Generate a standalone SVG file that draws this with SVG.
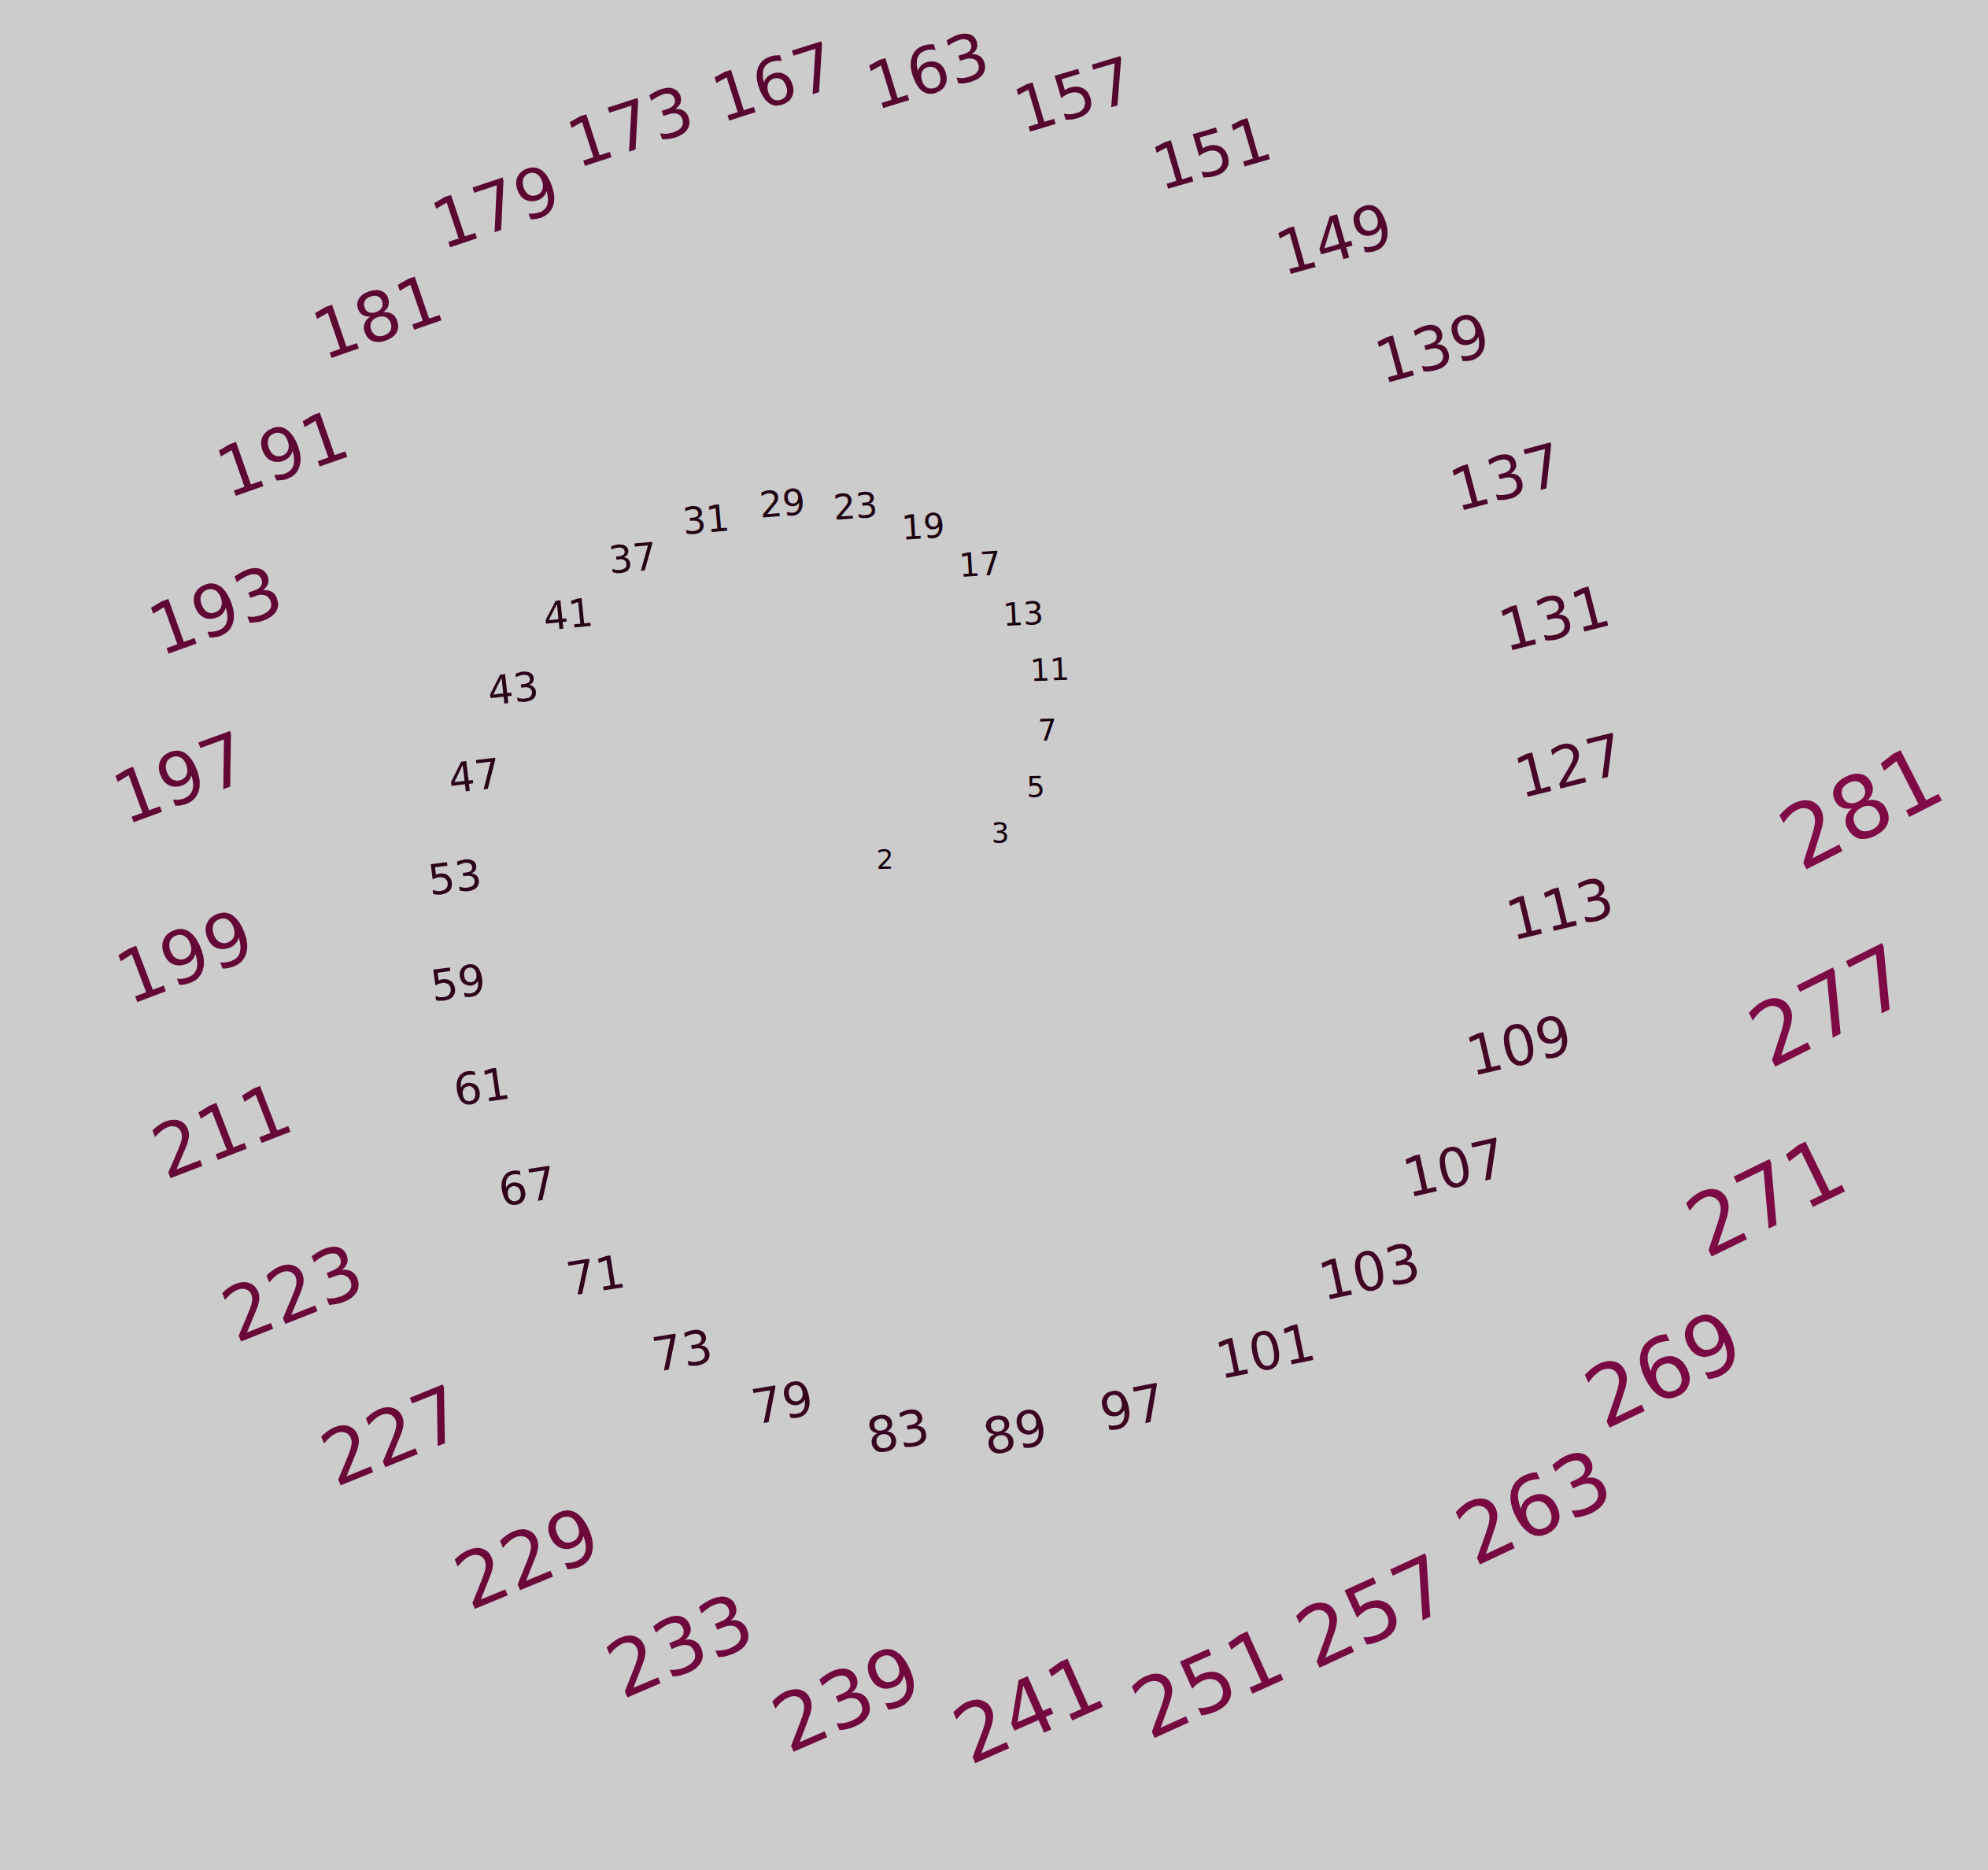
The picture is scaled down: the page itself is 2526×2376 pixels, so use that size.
<svg xmlns="http://www.w3.org/2000/svg" width="2526" height="2376" viewBox="0 0 2526 2376">
<style>
text{font-family:"DejaVu Sans","Liberation Sans",sans-serif;text-anchor:middle;dominant-baseline:central}
</style>
<rect width="2526" height="2376" fill="#cccccc"/>
<g id="nodes">
<g id="p2" transform="translate(1124.5 1092) rotate(-0.45)"><text font-size="34" fill="rgb(15,0,8)">2</text></g>
<g id="p3" transform="translate(1271 1058) rotate(-0.9)"><text font-size="35.3" fill="rgb(17,0,9)">3</text></g>
<g id="p5" transform="translate(1316 1000) rotate(-1.35)"><text font-size="36.6" fill="rgb(19,0,10)">5</text></g>
<g id="p7" transform="translate(1331 928) rotate(-1.8)"><text font-size="37.9" fill="rgb(21,1,11)">7</text></g>
<g id="p11" transform="translate(1334 851) rotate(-2.25)"><text font-size="39.2" fill="rgb(23,1,12)">11</text></g>
<g id="p13" transform="translate(1300 780) rotate(-2.7)"><text font-size="40.5" fill="rgb(25,1,13)">13</text></g>
<g id="p17" transform="translate(1245 717) rotate(-3.15)"><text font-size="41.8" fill="rgb(26,1,14)">17</text></g>
<g id="p19" transform="translate(1173 669) rotate(-3.6)"><text font-size="43.1" fill="rgb(28,1,15)">19</text></g>
<g id="p23" transform="translate(1087 643) rotate(-4.05)"><text font-size="44.4" fill="rgb(30,1,16)">23</text></g>
<g id="p29" transform="translate(994 640) rotate(-4.5)"><text font-size="45.7" fill="rgb(32,2,17)">29</text></g>
<g id="p31" transform="translate(897 660) rotate(-4.95)"><text font-size="47" fill="rgb(34,2,19)">31</text></g>
<g id="p37" transform="translate(804 709) rotate(-5.4)"><text font-size="48.3" fill="rgb(36,2,20)">37</text></g>
<g id="p41" transform="translate(722 781) rotate(-5.85)"><text font-size="49.6" fill="rgb(38,2,21)">41</text></g>
<g id="p43" transform="translate(652 875) rotate(-6.3)"><text font-size="50.9" fill="rgb(40,2,22)">43</text></g>
<g id="p47" transform="translate(603 986) rotate(-6.75)"><text font-size="52.2" fill="rgb(42,2,23)">47</text></g>
<g id="p53" transform="translate(578 1115) rotate(-7.2)"><text font-size="53.5" fill="rgb(44,3,24)">53</text></g>
<g id="p59" transform="translate(582 1249) rotate(-7.65)"><text font-size="54.8" fill="rgb(46,3,25)">59</text></g>
<g id="p61" transform="translate(612 1381) rotate(-8.1)"><text font-size="56.1" fill="rgb(48,3,26)">61</text></g>
<g id="p67" transform="translate(670 1508) rotate(-8.55)"><text font-size="57.4" fill="rgb(49,3,27)">67</text></g>
<g id="p71" transform="translate(757 1621) rotate(-9)"><text font-size="58.7" fill="rgb(51,3,28)">71</text></g>
<g id="p73" transform="translate(867 1716) rotate(-9.45)"><text font-size="60" fill="rgb(53,3,29)">73</text></g>
<g id="p79" transform="translate(994 1782) rotate(-9.9)"><text font-size="61.3" fill="rgb(55,4,30)">79</text></g>
<g id="p83" transform="translate(1141 1819) rotate(-10.35)"><text font-size="62.6" fill="rgb(57,4,31)">83</text></g>
<g id="p89" transform="translate(1290 1820) rotate(-10.8)"><text font-size="63.9" fill="rgb(59,4,32)">89</text></g>
<g id="p97" transform="translate(1439 1788) rotate(-11.25)"><text font-size="65.2" fill="rgb(61,4,33)">97</text></g>
<g id="p101" transform="translate(1608 1717) rotate(-11.7)"><text font-size="66.5" fill="rgb(63,4,34)">101</text></g>
<g id="p103" transform="translate(1740 1616) rotate(-12.15)"><text font-size="67.8" fill="rgb(65,4,35)">103</text></g>
<g id="p107" transform="translate(1848 1484) rotate(-12.6)"><text font-size="69.1" fill="rgb(67,5,36)">107</text></g>
<g id="p109" transform="translate(1930 1329) rotate(-13.05)"><text font-size="70.4" fill="rgb(69,5,37)">109</text></g>
<g id="p113" transform="translate(1982 1155) rotate(-13.5)"><text font-size="71.7" fill="rgb(71,5,38)">113</text></g>
<g id="p127" transform="translate(1994 973) rotate(-13.95)"><text font-size="73" fill="rgb(72,5,40)">127</text></g>
<g id="p131" transform="translate(1975 786) rotate(-14.4)"><text font-size="74.3" fill="rgb(74,5,41)">131</text></g>
<g id="p137" transform="translate(1914 607) rotate(-14.85)"><text font-size="75.6" fill="rgb(76,5,42)">137</text></g>
<g id="p139" transform="translate(1820 443) rotate(-15.3)"><text font-size="76.9" fill="rgb(78,6,43)">139</text></g>
<g id="p149" transform="translate(1695 304) rotate(-15.75)"><text font-size="78.2" fill="rgb(80,6,44)">149</text></g>
<g id="p151" transform="translate(1540 195) rotate(-16.2)"><text font-size="79.5" fill="rgb(82,6,45)">151</text></g>
<g id="p157" transform="translate(1365 121) rotate(-16.65)"><text font-size="80.8" fill="rgb(84,6,46)">157</text></g>
<g id="p163" transform="translate(1179 90) rotate(-17.1)"><text font-size="82.1" fill="rgb(86,6,47)">163</text></g>
<g id="p167" transform="translate(984 105) rotate(-17.55)"><text font-size="83.4" fill="rgb(88,6,48)">167</text></g>
<g id="p173" transform="translate(801 161) rotate(-18)"><text font-size="84.7" fill="rgb(90,7,49)">173</text></g>
<g id="p179" transform="translate(630 263) rotate(-18.45)"><text font-size="86" fill="rgb(92,7,50)">179</text></g>
<g id="p181" transform="translate(480 403) rotate(-18.9)"><text font-size="87.3" fill="rgb(94,7,51)">181</text></g>
<g id="p191" transform="translate(359 577) rotate(-19.35)"><text font-size="88.6" fill="rgb(95,7,52)">191</text></g>
<g id="p193" transform="translate(274 776) rotate(-19.8)"><text font-size="89.9" fill="rgb(97,7,53)">193</text></g>
<g id="p197" transform="translate(230 989) rotate(-20.25)"><text font-size="91.2" fill="rgb(99,7,54)">197</text></g>
<g id="p199" transform="translate(235 1216) rotate(-20.7)"><text font-size="92.5" fill="rgb(101,8,55)">199</text></g>
<g id="p211" transform="translate(282 1437) rotate(-21.15)"><text font-size="93.8" fill="rgb(103,8,56)">211</text></g>
<g id="p223" transform="translate(372 1643) rotate(-21.6)"><text font-size="95.1" fill="rgb(105,8,57)">223</text></g>
<g id="p227" transform="translate(499 1825) rotate(-22.05)"><text font-size="96.4" fill="rgb(107,8,58)">227</text></g>
<g id="p229" transform="translate(670 1980) rotate(-22.5)"><text font-size="97.7" fill="rgb(109,8,59)">229</text></g>
<g id="p233" transform="translate(864 2091) rotate(-22.95)"><text font-size="99" fill="rgb(111,8,61)">233</text></g>
<g id="p239" transform="translate(1076 2159) rotate(-23.4)"><text font-size="100.3" fill="rgb(113,9,62)">239</text></g>
<g id="p241" transform="translate(1307 2172) rotate(-23.85)"><text font-size="101.6" fill="rgb(115,9,63)">241</text></g>
<g id="p251" transform="translate(1535 2138) rotate(-24.3)"><text font-size="102.9" fill="rgb(117,9,64)">251</text></g>
<g id="p257" transform="translate(1745 2048) rotate(-24.75)"><text font-size="104.2" fill="rgb(118,9,65)">257</text></g>
<g id="p263" transform="translate(1949 1915) rotate(-25.2)"><text font-size="105.5" fill="rgb(120,9,66)">263</text></g>
<g id="p269" transform="translate(2114 1740) rotate(-25.65)"><text font-size="106.8" fill="rgb(122,9,67)">269</text></g>
<g id="p271" transform="translate(2244 1521) rotate(-26.1)"><text font-size="108.1" fill="rgb(124,10,68)">271</text></g>
<g id="p277" transform="translate(2325 1278) rotate(-26.55)"><text font-size="109.4" fill="rgb(126,10,69)">277</text></g>
<g id="p281" transform="translate(2365 1026) rotate(-27)"><text font-size="110.7" fill="rgb(128,10,70)">281</text></g>
</g>
</svg>
